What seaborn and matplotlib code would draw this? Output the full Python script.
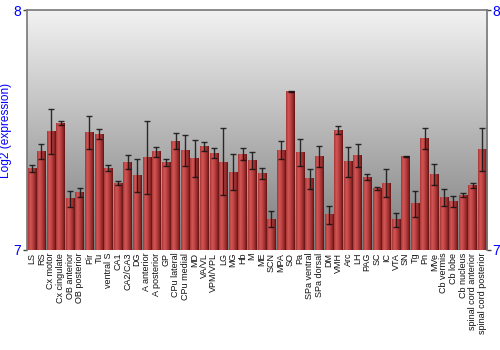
import numpy as np
import pandas as pd
import matplotlib
matplotlib.use("Agg")
import matplotlib.pyplot as plt
from matplotlib.colors import LinearSegmentedColormap
import seaborn as sns

regions = ["LS", "RS", "Cx motor", "Cx cingulate", "OB anterior", "OB posterior", "Pir", "Tu",
           "ventral S", "CA1", "CA2/CA3", "DG", "A anterior", "A posterior", "GP", "CPu lateral",
           "CPu medial", "MD", "VA/VL", "VPM/VPL", "LG", "MG", "Hb", "M", "ME", "SCN", "MPA", "SO",
           "Pa", "SPa ventral", "SPa dorsal", "DM", "VMH", "Arc", "LH", "PAG", "SC", "IC", "VTA",
           "SN", "Tg", "Pn", "MVe", "Cb vermis", "Cb lobe", "Cb nucleus",
           "spinal cord anterior", "spinal cord posterior"]
expression = [7.340, 7.410, 7.493, 7.529, 7.213, 7.239, 7.490, 7.483,
              7.342, 7.279, 7.367, 7.311, 7.385, 7.410, 7.365, 7.454,
              7.413, 7.380, 7.432, 7.404, 7.367, 7.325, 7.400, 7.374, 7.317, 7.129, 7.417, 7.661,
              7.405, 7.297, 7.389, 7.146, 7.500, 7.368, 7.393, 7.303, 7.255, 7.279, 7.126,
              7.389, 7.193, 7.465, 7.314, 7.218, 7.201, 7.229,
              7.270, 7.418]
error = [0.015, 0.031, 0.094, 0.010, 0.033, 0.020, 0.068, 0.021,
         0.014, 0.009, 0.029, 0.070, 0.151, 0.021, 0.013, 0.033,
         0.065, 0.078, 0.020, 0.020, 0.140, 0.076, 0.027, 0.036, 0.023, 0.035, 0.038, 0.003,
         0.056, 0.042, 0.044, 0.036, 0.018, 0.063, 0.049, 0.012, 0.006, 0.060, 0.029,
         0.003, 0.054, 0.043, 0.045, 0.035, 0.022, 0.007,
         0.010, 0.089]
yticks = [7, 8]

df = pd.DataFrame({"region": regions, "expression": expression, "error": error})

sns.set_style("white")
plt.rcParams['font.family'] = ['Liberation Sans', 'DejaVu Sans']

fig = plt.figure(figsize=(5, 3.5), dpi=100)
ax = fig.add_axes([0.054, 0.286, 0.92, 0.685])

sns.barplot(data=df, x="region", y="expression", order=regions, errorbar=None,
            color="#c04040", width=0.88, ax=ax, zorder=2)

ymin, ymax = 7, 8
ax.set_ylim(ymin, ymax)
ax.set_xlim(-0.5, len(regions) - 0.5)

# background gradient (light at top, darker at bottom)
bg = np.linspace(0, 1, 256).reshape(-1, 1)
bg_cmap = LinearSegmentedColormap.from_list("bg", ["#f2f2f2", "#7c7c7c"])
ax.imshow(bg, cmap=bg_cmap, aspect="auto", extent=[0, 1, 0, 1], origin="upper",
          transform=ax.transAxes, zorder=0, interpolation="bilinear")

# cylinder-like gradient on bars
bar_cmap = LinearSegmentedColormap.from_list(
    "bar", [(0.0, "#a83434"), (0.25, "#d25656"), (0.5, "#c04444"), (0.85, "#8a2424"), (1.0, "#5e1212")])
grad = np.linspace(0, 1, 64).reshape(1, -1)
for p in list(ax.patches):
    x0, y0 = p.get_x(), p.get_y()
    w, h = p.get_width(), p.get_height()
    p.set_facecolor("none")
    p.set_edgecolor("none")
    ax.imshow(grad, cmap=bar_cmap, aspect="auto",
              extent=[x0, x0 + w, max(y0, ymin), y0 + h], zorder=2, interpolation="bilinear")

ax.errorbar(np.arange(len(regions)), df["expression"], yerr=df["error"], fmt="none",
            ecolor="#111111", elinewidth=1, capsize=2.2, capthick=1, alpha=0.85, zorder=3)

ax.set_xlim(-0.5, len(regions) - 0.5)
ax.set_ylim(ymin, ymax)

# spines
for s in ["left", "top", "right"]:
    ax.spines[s].set_visible(True)
    ax.spines[s].set_color("#777777")
    ax.spines[s].set_linewidth(1.2)
ax.spines["bottom"].set_visible(False)

ax.set_yticks(yticks)
ax.set_yticklabels([str(t) for t in yticks])
ax.tick_params(axis="y", which="both", left=True, right=True, labelleft=True, labelright=True,
               length=3, width=1, color="#444444", labelcolor="#0000ff", labelsize=10, pad=1)
ax.set_xticks(np.arange(len(regions)))
ax.set_xticklabels(regions, rotation=90, fontsize=6.5, color="#111111")
ax.tick_params(axis="x", length=0, pad=2)

ax.set_xlabel("")
ax.set_ylabel("Log2 (expression)", color="#0000ff", fontsize=8.6, labelpad=1)

fig.savefig("out.png", dpi=100)
